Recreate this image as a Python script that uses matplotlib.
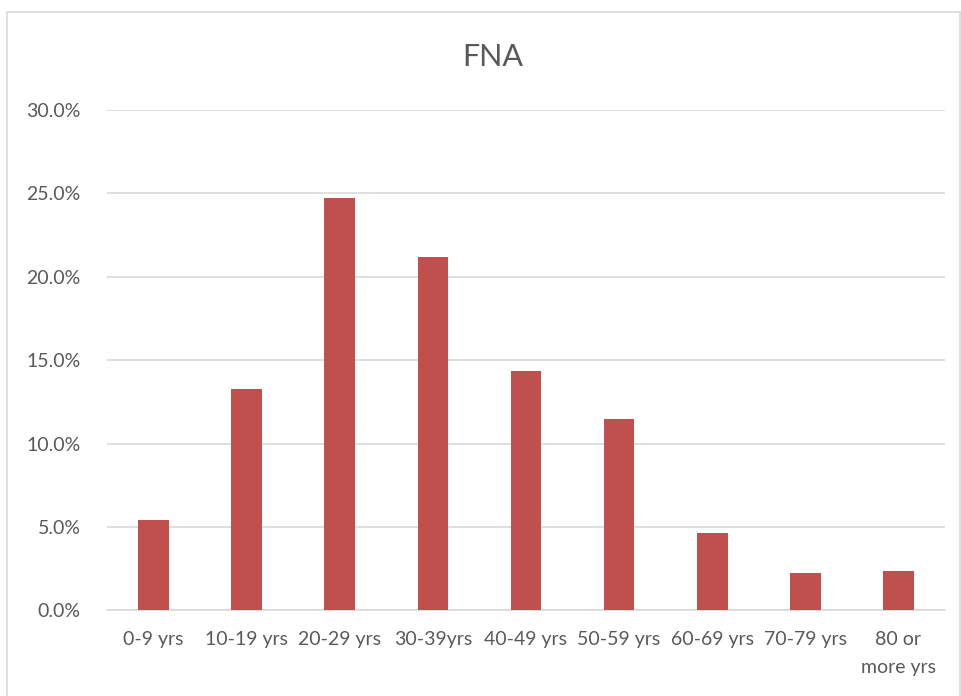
import matplotlib.pyplot as plt
from matplotlib.patches import Rectangle
from matplotlib.ticker import PercentFormatter

# Data
categories = ["0-9 yrs", "10-19 yrs", "20-29 yrs", "30-39yrs", "40-49 yrs",
              "50-59 yrs", "60-69 yrs", "70-79 yrs", "80 or\nmore yrs"]
values = [0.054, 0.133, 0.247, 0.212, 0.1435, 0.115, 0.0465, 0.0225, 0.0235]
yticks = [0.0, 0.05, 0.10, 0.15, 0.20, 0.25, 0.30]

text_col = "#595959"
grid_col = "#d9d9d9"
bar_col = "#c0504d"

plt.rcParams['font.family'] = ['Lato', 'DejaVu Sans']

fig = plt.figure(figsize=(9.62, 6.96), dpi=100)
fig.patches.append(Rectangle((7 / 962, -0.01), 953 / 962, 1 - 12 / 696 + 0.01,
                             transform=fig.transFigure, fill=False,
                             edgecolor=grid_col, linewidth=1.2))

ax = fig.add_axes([107 / 962, 1 - 610.3 / 696, 838 / 962, 500.3 / 696])
x = range(len(categories))
ax.bar(x, values, width=0.33, color=bar_col, zorder=3)

ax.set_xlim(-0.5, len(categories) - 0.5)
ax.set_ylim(0, 0.30)
ax.set_yticks(yticks)
ax.yaxis.set_major_formatter(PercentFormatter(1.0, decimals=1))
ax.set_xticks(list(x))
ax.set_xticklabels(categories, linespacing=1.75)
ax.tick_params(axis='both', length=0, labelsize=14, labelcolor=text_col)
ax.tick_params(axis='x', pad=15)
ax.tick_params(axis='y', pad=19)

ax.grid(axis='y', color=grid_col, linewidth=1.2, zorder=0)
for side in ['top', 'right', 'left']:
    ax.spines[side].set_visible(False)
ax.spines['bottom'].set_color(grid_col)
ax.spines['bottom'].set_linewidth(1.2)

fig.text(0.512, 1 - 57 / 696, "FNA", ha='center', va='center',
         fontsize=22, color=text_col)

fig.savefig("out.png", dpi=100)
